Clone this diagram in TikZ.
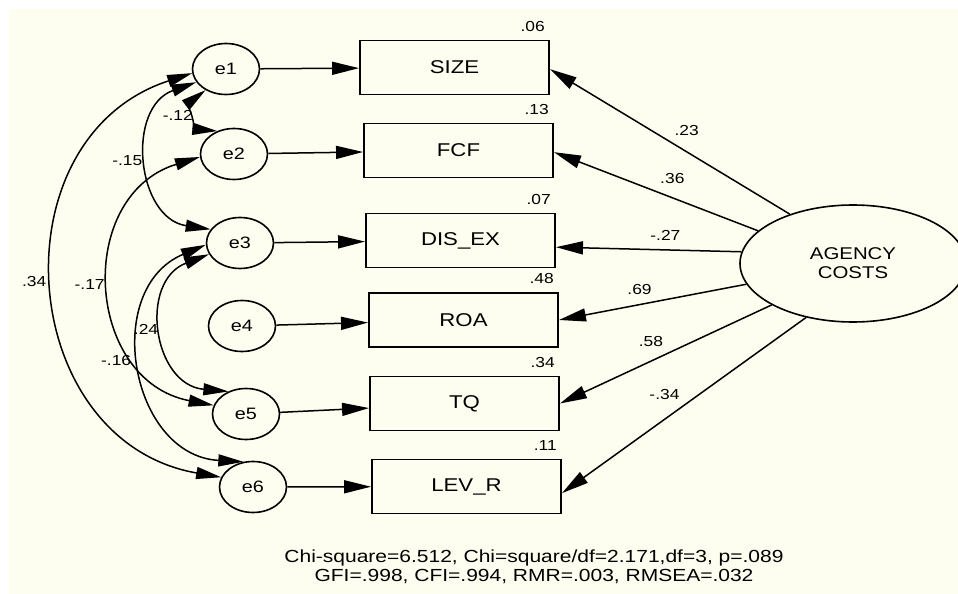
\documentclass[tikz,border=0pt]{standalone}
\usepackage{fontspec}
\newfontfamily\amosfont[FakeStretch=1.2]{Liberation Sans}
\usepackage{xcolor}
\usetikzlibrary{arrows.meta,shapes.geometric,positioning}
\definecolor{cream}{RGB}{254,254,240}

\begin{document}
\begin{tikzpicture}[
  x=1bp, y=-1bp,
  font=\amosfont,
  err/.style={draw, ellipse, line width=1.6bp, minimum width=67bp, minimum height=51bp, inner sep=0pt, font=\amosfont\fontsize{16.5bp}{19bp}\selectfont},
  obs/.style={draw, rectangle, line width=1.9bp, minimum width=189bp, minimum height=54bp, inner sep=0pt, font=\amosfont\fontsize{18.5bp}{22bp}\selectfont},
  lat/.style={draw, ellipse, line width=1.6bp, minimum width=226bp, minimum height=117bp, inner sep=0pt, align=center, font=\amosfont\fontsize{17bp}{19bp}\selectfont},
  coef/.style={inner sep=0pt, font=\amosfont\fontsize{14.5bp}{17bp}\selectfont},
  rsq/.style={coef, anchor=south east, xshift=-5bp, yshift=8bp},
  arr/.style={-{Triangle[length=27bp,width=13bp]}, line width=1.5bp},
  cov/.style={{Triangle[length=25bp,width=12bp]}-{Triangle[length=25bp,width=12bp]}, line width=1.5bp}
]
% canvas
\fill[white] (0,0) rectangle (958,594);
\fill[cream] (9,9) rectangle (958,594);
\useasboundingbox (0,0) rectangle (958,594);
% error terms
\node[err] (e1) at (226,69) {e1};
\node[err] (e2) at (234,154) {e2};
\node[err] (e3) at (240,243) {e3};
\node[err] (e4) at (242,326) {e4};
\node[err] (e5) at (246,414) {e5};
\node[err] (e6) at (253,487) {e6};
% observed variables
\node[obs, label={[rsq]north east:.06}] (size) at (454.5,67.5) {SIZE};
\node[obs, label={[rsq]north east:.13}] (fcf) at (458.5,150.5) {FCF};
\node[obs, label={[rsq]north east:.07}] (disex) at (460.5,240.5) {DIS\_EX};
\node[obs, label={[rsq]north east:.48}] (roa) at (463.5,320) {ROA};
\node[obs, label={[rsq]north east:.34}] (tq) at (464.5,403.5) {TQ};
\node[obs, label={[rsq]north east:.11}] (levr) at (466.5,486.5) {LEV\_R};
% latent factor
\node[lat] (ac) at (853,263.5) {AGENCY\\COSTS};
% fit indices
\node[align=center, font=\amosfont\fontsize{17.5bp}{19bp}\selectfont] (fit) at (534,566.5)
  {Chi-square=6.512, Chi=square/df=2.171,df=3, p=.089\\GFI=.998, CFI=.994, RMR=.003, RMSEA=.032};
% errors to indicators
\foreach \e/\b in {e1/size,e2/fcf,e3/disex,e4/roa,e5/tq,e6/levr} \draw[arr] (\e) -- (\b);
% loadings
\foreach \a/\b/\t/\p/\h/\v in {142/size/-1.5/.43/21/.23, 161/fcf/-1.5/.42/19/.36, 174/disex/-4.5/.41/14/-.27,
    191/roa/0.6/.57/15/.69, 207/tq/0/.57/20/.58, 229/levr/-4.5/.58/25/-.34}
  \draw[arr] (ac.\a) -- (\b.\t) node[coef, pos=\p, yshift=\h bp] {\v};
% error covariances
\draw[cov] (e1.187) to[bend right=76, looseness=1.32] node[coef, midway, anchor=east, xshift=-8bp, yshift=5bp] {.34} (e6.163);
\draw[cov] (e1.204) to[bend right=76, looseness=1.30] node[coef, midway, anchor=east, xshift=-6bp, yshift=0bp] {-.15} (e3.155);
\draw[cov] (e1.226) to[bend right=69, looseness=1.25] node[coef, midway, anchor=east, xshift=-4bp, yshift=-1bp] {-.12} (e2.126);
\draw[cov] (e2.185) to[bend right=76, looseness=1.35] node[coef, midway, anchor=east, xshift=-6bp, yshift=2bp] {-.17} (e5.165);
\draw[cov] (e3.200) to[bend right=77, looseness=1.40] node[coef, midway, anchor=east, xshift=-5bp, yshift=1bp] {.24} (e5.128);
\draw[cov] (e3.183) to[bend right=77, looseness=1.32] node[coef, midway, anchor=east, xshift=-11bp, yshift=7bp] {-.16} (e6.111);
\end{tikzpicture}
\end{document}
